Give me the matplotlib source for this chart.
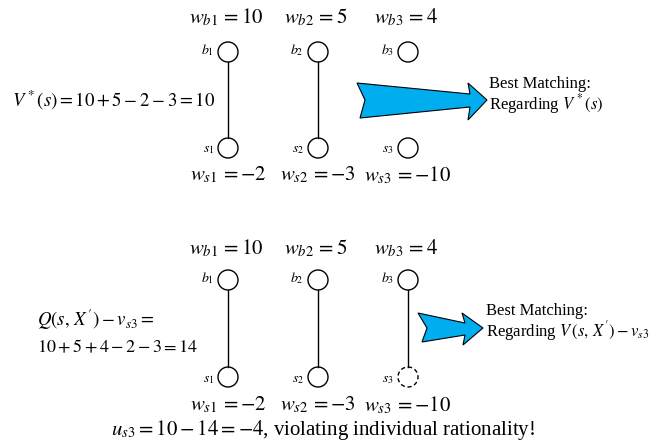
import matplotlib
matplotlib.use('Agg')
import matplotlib.pyplot as plt
from matplotlib.patches import Circle, Polygon

plt.rcParams['font.family'] = 'serif'
plt.rcParams['font.serif'] = ['Liberation Serif', 'DejaVu Serif']
plt.rcParams['mathtext.fontset'] = 'stix'

# weights of buyers / sellers
buyer_w = [10, 5, 4]
seller_w = [-2, -3, -10]
# which pairs are matched in each panel
matched_top = [True, True, False]
matched_bottom = [True, True, True]
dashed_bottom = [False, False, True]

col_x = [228, 318, 408]
R = 10
ARROW = '#00AEEF'

fig = plt.figure(figsize=(6.68, 4.45), dpi=100)
ax = fig.add_axes([0, 0, 1, 1])
ax.set_xlim(0, 668)
ax.set_ylim(445, 0)
ax.axis('off')


def panel(yw_b, yb, ys, yw_s, matched, dashed):
    for i, x in enumerate(col_x):
        ax.text(x - 2, yw_b, r'$w_{b%d}\,=%d$' % (i + 1, buyer_w[i]),
                fontsize=15, ha='center', va='center')
        ax.text(x, yw_s, r'$w_{s%d}\,=%d$' % (i + 1, seller_w[i]),
                fontsize=15, ha='center', va='center')
        ax.text(x - 14, yb - 2, r'$b_{%d}$' % (i + 1), fontsize=10,
                ha='right', va='center')
        ax.text(x - 14, ys + 2, r'$s_{%d}$' % (i + 1), fontsize=10,
                ha='right', va='center')
        ax.add_patch(Circle((x, yb), R, fc='white', ec='black', lw=1))
        ax.add_patch(Circle((x, ys), R, fc='white', ec='black', lw=1,
                            ls=(0, (3, 2)) if dashed[i] else '-'))
        if matched[i]:
            ax.plot([x, x], [yb + R, ys - R], color='black', lw=1)


panel(17, 52, 148, 175, matched_top, [False] * 3)
panel(248, 280, 377, 405, matched_bottom, dashed_bottom)

# arrows
ax.add_patch(Polygon([(357, 83), (470, 94), (468, 83), (487, 100), (468, 120),
                      (470, 107), (360, 118), (365, 100)],
                     closed=True, fc=ARROW, ec='black', lw=0.8))
ax.add_patch(Polygon([(418, 313), (465, 323), (462, 313), (483, 328), (463, 345),
                      (465, 335), (422, 342), (427, 328)],
                     closed=True, fc=ARROW, ec='black', lw=0.8))

ax.text(489, 84, 'Best Matching:', fontsize=12, ha='left', va='center')
ax.text(489, 104, r'Regarding $V^*(s)$', fontsize=12, ha='left', va='center')
ax.text(486, 311, 'Best Matching:', fontsize=12, ha='left', va='center')
ax.text(486, 331, r"Regarding $V\,(s,\,X\,') - v_{s3}$", fontsize=12,
        ha='left', va='center')

ax.text(12, 100, r'$V^*(s) = 10+5-2-3 = 10$', fontsize=13.5, ha='left',
        va='center')
ax.text(37, 320, r"$Q(s,\,X\,') - v_{s3} =$", fontsize=13.5, ha='left',
        va='center')
ax.text(37, 348, r'$10+5+4-2-3 = 14$', fontsize=13, ha='left', va='center')
ax.text(323, 430, r'$u_{s3} = 10-14 = -4$, violating individual rationality!',
        fontsize=15, ha='center', va='center')

fig.savefig('out.png', dpi=100)
